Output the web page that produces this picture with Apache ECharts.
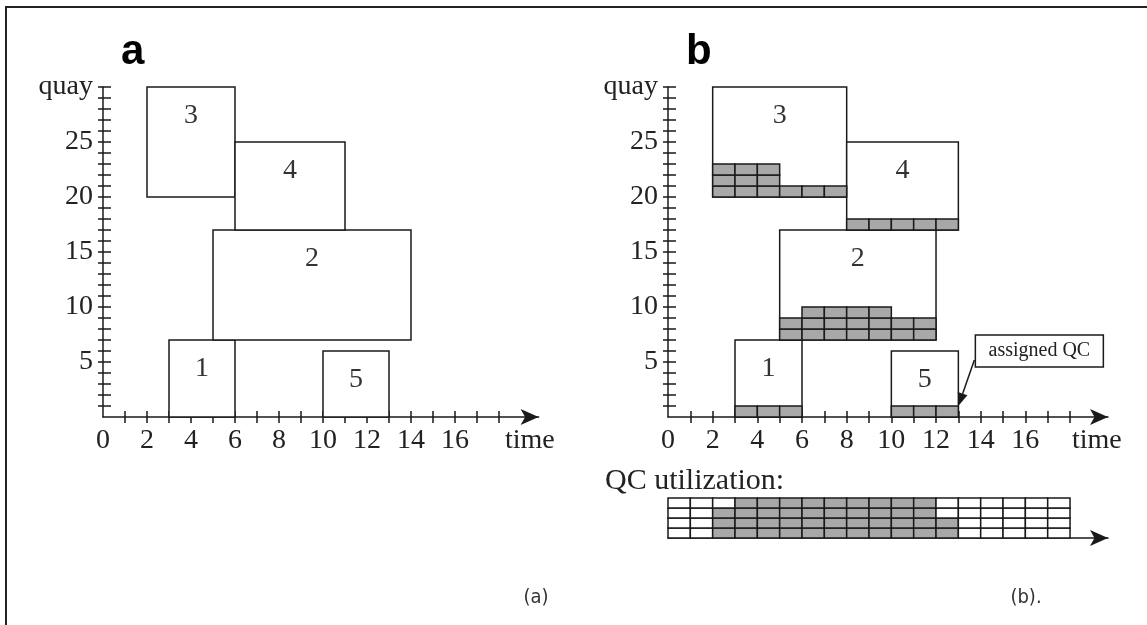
<!DOCTYPE html>
<html>
<head>
<meta charset="utf-8">
<script src="https://cdn.jsdelivr.net/npm/echarts@6/dist/echarts.min.js"></script>
<style>
  html, body { margin: 0; padding: 0; background: #fff; }
  #chart { width: 1147px; height: 625px; }
</style>
</head>
<body>
<div id="chart"></div>
<script>
// ---------- data ----------
const vesselIds   = [1, 2, 3, 4, 5];
const quayLo      = [0, 7, 20, 17, 0];
const quayHi      = [7, 17, 30, 25, 6];
// plan (a)
const startA      = [3, 5, 2, 6, 10];
const endA        = [6, 14, 6, 11, 13];
// plan (b)
const startB      = [3, 5, 2, 8, 10];
const endB        = [6, 12, 8, 13, 13];
// QCs assigned to each vessel in (b), one value per time step from its start
const qcAssignB   = [
  [1, 1, 1],
  [2, 3, 3, 3, 3, 2, 2],
  [3, 3, 3, 1, 1, 1],
  [1, 1, 1, 1, 1],
  [1, 1, 1]
];
// QC utilization per time step (4 QCs in total)
const qcUtil      = [0, 0, 3, 4, 4, 4, 4, 4, 4, 4, 4, 4, 2, 0, 0, 0, 0, 0];
const qcTotal     = 4;
// axis ticks and labels
const timeTicks   = [1, 2, 3, 4, 5, 6, 7, 8, 9, 10, 11, 12, 13, 14, 15, 16, 17, 18];
const timeLabels  = [0, 2, 4, 6, 8, 10, 12, 14, 16];
const quayTicks   = [1, 2, 3, 4, 5, 6, 7, 8, 9, 10, 11, 12, 13, 14, 15, 16, 17, 18, 19, 20,
                     21, 22, 23, 24, 25, 26, 27, 28, 29, 30];
const quayLabels  = [5, 10, 15, 20, 25, 30];
const timeName    = 'time';
const quayName    = 'quay';
// annotation
const annotText   = 'assigned QC';
const annotTarget = [13, 1];

// ---------- build ----------
const SERIF = '"Liberation Serif", "Times New Roman", serif';
const INK = '#1a1a1a';
const GRAY = '#a8a8a8';

function vesselData(starts, ends) {
  return vesselIds.map((id, i) => [starts[i], ends[i], quayLo[i], quayHi[i], id]);
}
const cellsB = [];
qcAssignB.forEach((counts, i) => {
  counts.forEach((c, k) => {
    for (let r = 0; r < c; r++) cellsB.push([startB[i] + k, quayLo[i] + r, 1]);
  });
});
const utilCells = [];
qcUtil.forEach((u, t) => {
  for (let r = 0; r < qcTotal; r++) utilCells.push([t, r, r < u ? 1 : 0]);
});

function renderVessel(params, api) {
  const p1 = api.coord([api.value(0), api.value(3)]);
  const p2 = api.coord([api.value(1), api.value(2)]);
  return {
    type: 'group',
    children: [
      { type: 'rect', shape: { x: p1[0], y: p1[1], width: p2[0] - p1[0], height: p2[1] - p1[1] },
        style: { fill: '#fff', stroke: INK, lineWidth: 1.5 } },
      { type: 'text', style: { text: String(api.value(4)), x: (p1[0] + p2[0]) / 2, y: p1[1] + 29,
        align: 'center', verticalAlign: 'middle', font: '28px ' + SERIF, fill: '#333' } }
    ]
  };
}
function renderCell(params, api) {
  const t = api.value(0), q = api.value(1);
  const p1 = api.coord([t, q + 1]);
  const p2 = api.coord([t + 1, q]);
  const filled = api.value(2);
  return { type: 'rect', shape: { x: p1[0], y: p1[1], width: p2[0] - p1[0], height: p2[1] - p1[1] },
    style: { fill: filled ? GRAY : '#fff', stroke: INK, lineWidth: 1.5 } };
}
function renderAnnot(params, api) {
  const tip = api.coord([api.value(0), api.value(1)]);
  const bx = tip[0] + 17, by = tip[1] - 71, bw = 128, bh = 32;
  const sx = tip[0] + 16, sy = tip[1] - 46;
  const dx = tip[0] - sx, dy = tip[1] - sy;
  const len = Math.sqrt(dx * dx + dy * dy);
  const ux = dx / len, uy = dy / len;
  const hl = 13, hw = 5;
  const bxp = tip[0] - ux * hl, byp = tip[1] - uy * hl;
  return {
    type: 'group',
    children: [
      { type: 'rect', shape: { x: bx, y: by, width: bw, height: bh },
        style: { fill: '#fff', stroke: INK, lineWidth: 1.5 } },
      { type: 'text', style: { text: annotText, x: bx + bw / 2, y: by + bh / 2, align: 'center',
        verticalAlign: 'middle', font: '20px ' + SERIF, fill: '#222' } },
      { type: 'line', shape: { x1: sx, y1: sy, x2: bxp, y2: byp }, style: { stroke: INK, lineWidth: 1.5 } },
      { type: 'polygon', shape: { points: [[tip[0], tip[1]],
          [bxp - uy * hw, byp + ux * hw], [bxp + uy * hw, byp - ux * hw]] },
        style: { fill: INK } }
    ]
  };
}

function mainX(gridIndex, max, nameAt) {
  return {
    type: 'value', gridIndex, min: 0, max, position: 'bottom',
    splitLine: { show: false },
    axisLine: { show: true, onZero: false, symbol: ['none', 'arrow'], symbolSize: [12, 18],
      lineStyle: { color: INK, width: 1.5 } },
    axisTick: { show: true, inside: true, length: 6, customValues: timeTicks,
      lineStyle: { color: INK, width: 1.5 } },
    axisLabel: { show: true, margin: 10, customValues: timeLabels.concat([nameAt]),
      formatter: v => (v > 18 ? timeName : String(v)),
      fontFamily: SERIF, fontSize: 28, color: '#222' }
  };
}
function tickX(gridIndex, max) {
  return {
    type: 'value', gridIndex, min: 0, max, position: 'bottom',
    splitLine: { show: false },
    axisLine: { show: false, onZero: false },
    axisTick: { show: true, inside: false, length: 6, customValues: timeTicks,
      lineStyle: { color: INK, width: 1.5 } },
    axisLabel: { show: false }
  };
}
function mainY(gridIndex) {
  return {
    type: 'value', gridIndex, min: 0, max: 30, position: 'left',
    splitLine: { show: false },
    axisLine: { show: true, onZero: false, lineStyle: { color: INK, width: 1.5 } },
    axisTick: { show: true, inside: true, length: 8, customValues: quayTicks,
      lineStyle: { color: INK, width: 1.5 } },
    axisLabel: { show: true, margin: 10, customValues: quayLabels,
      formatter: v => (v >= 30 ? quayName : String(v)),
      fontFamily: SERIF, fontSize: 28, color: '#222' }
  };
}
function tickY(gridIndex) {
  return {
    type: 'value', gridIndex, min: 0, max: 30, position: 'left',
    splitLine: { show: false },
    axisLine: { show: false, onZero: false },
    axisTick: { show: true, inside: false, length: 5, customValues: quayTicks,
      lineStyle: { color: INK, width: 1.5 } },
    axisLabel: { show: false }
  };
}

const option = {
  animation: false,
  backgroundColor: '#fff',
  grid: [
    { left: 103, top: 87, width: 435.6, height: 330 },
    { left: 668, top: 87, width: 440, height: 330 },
    { left: 668, top: 498, width: 440, height: 40 }
  ],
  xAxis: [
    mainX(0, 19.8, 19.4), tickX(0, 19.8),
    mainX(1, 19.7, 19.2), tickX(1, 19.7),
    { type: 'value', gridIndex: 2, min: 0, max: 19.7, position: 'bottom',
      splitLine: { show: false },
      axisLine: { show: true, onZero: false, symbol: ['none', 'arrow'], symbolSize: [12, 18],
        lineStyle: { color: INK, width: 1.5 } },
      axisTick: { show: false }, axisLabel: { show: false } }
  ],
  yAxis: [
    mainY(0), tickY(0), mainY(1), tickY(1),
    { type: 'value', gridIndex: 2, min: 0, max: qcTotal, show: false }
  ],
  series: [
    { type: 'custom', name: 'plan a', xAxisIndex: 0, yAxisIndex: 0, renderItem: renderVessel,
      data: vesselData(startA, endA), z: 3 },
    { type: 'custom', name: 'plan b', xAxisIndex: 2, yAxisIndex: 2, renderItem: renderVessel,
      data: vesselData(startB, endB), z: 3 },
    { type: 'custom', name: 'assigned QC', xAxisIndex: 2, yAxisIndex: 2, renderItem: renderCell,
      data: cellsB, z: 4 },
    { type: 'custom', name: 'QC utilization', xAxisIndex: 4, yAxisIndex: 4, renderItem: renderCell,
      data: utilCells, z: 3 },
    { type: 'custom', name: 'annotation', xAxisIndex: 2, yAxisIndex: 2, renderItem: renderAnnot,
      data: [annotTarget], z: 5 }
  ],
  graphic: [
    { type: 'polyline', shape: { points: [[6, 625], [6, 7], [1147, 7]] },
      style: { stroke: '#222', lineWidth: 2, fill: null } },
    { type: 'text', x: 121, y: 73, style: { text: 'a', font: 'bold 42px "Liberation Sans", Arial, sans-serif',
      fill: '#000', verticalAlign: 'bottom' } },
    { type: 'text', x: 686, y: 73, style: { text: 'b', font: 'bold 42px "Liberation Sans", Arial, sans-serif',
      fill: '#000', verticalAlign: 'bottom' } },
    { type: 'text', x: 605, y: 481, style: { text: 'QC utilization:', font: '30px ' + SERIF,
      fill: '#222', verticalAlign: 'middle' } },
    { type: 'text', x: 536, y: 598, style: { text: '(a)', font: '20px "DejaVu Sans Condensed", "Liberation Sans Narrow", sans-serif',
      fill: '#333', align: 'center', verticalAlign: 'middle' } },
    { type: 'text', x: 1026, y: 598, style: { text: '(b).', font: '20px "DejaVu Sans Condensed", "Liberation Sans Narrow", sans-serif',
      fill: '#333', align: 'center', verticalAlign: 'middle' } }
  ]
};

const chart = echarts.init(document.getElementById('chart'), null, { renderer: 'canvas' });
chart.setOption(option);
</script>
</body>
</html>
